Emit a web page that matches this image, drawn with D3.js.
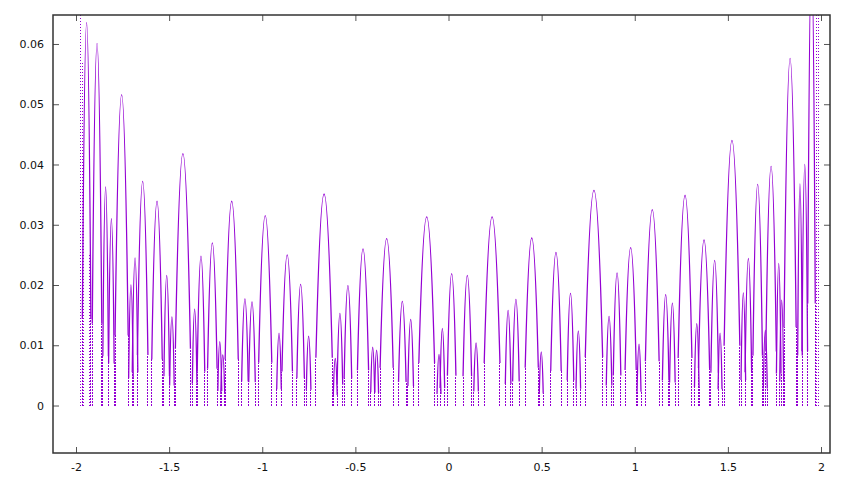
<!DOCTYPE html>
<html>
<head>
<meta charset="utf-8">
<script src="https://cdn.jsdelivr.net/npm/d3@7"></script>
<style>
  body { margin: 0; background: #fff; }
  svg { display: block; }
  .tick text { font-family: "DejaVu Sans", sans-serif; font-size: 11px; fill: #111; }
  .tick line { stroke: #555; }
</style>
</head>
<body>
<script>
// hump peaks (x, height, half width at base)
const peakX = [-1.943, -1.887, -1.841, -1.810, -1.755, -1.705, -1.683, -1.642, -1.565, -1.513,
  -1.485, -1.426, -1.363, -1.329, -1.268, -1.228, -1.212, -1.164, -1.093, -1.055,
  -0.984, -0.910, -0.866, -0.794, -0.751, -0.668, -0.608, -0.583, -0.540, -0.459,
  -0.407, -0.386, -0.332, -0.248, -0.203, -0.117, -0.051, -0.033, 0.017, 0.101,
  0.148, 0.234, 0.320, 0.362, 0.447, 0.498, 0.577, 0.655, 0.697, 0.781,
  0.862, 0.905, 0.978, 1.023, 1.094, 1.166, 1.202, 1.270, 1.333, 1.372,
  1.429, 1.458, 1.522, 1.583, 1.610, 1.660, 1.701, 1.732, 1.773, 1.789,
  1.834, 1.887, 1.913, 1.949];
const peakY = [0.0636, 0.0601, 0.0363, 0.0310, 0.0516, 0.0200, 0.0245, 0.0372, 0.0339, 0.0216,
  0.0147, 0.0418, 0.0160, 0.0248, 0.0270, 0.0106, 0.0084, 0.0339, 0.0177, 0.0172,
  0.0315, 0.0120, 0.0250, 0.0201, 0.0115, 0.0351, 0.0078, 0.0153, 0.0199, 0.0260,
  0.0097, 0.0092, 0.0277, 0.0173, 0.0143, 0.0313, 0.0085, 0.0128, 0.0219, 0.0216,
  0.0104, 0.0313, 0.0158, 0.0176, 0.0278, 0.0089, 0.0254, 0.0186, 0.0124, 0.0357,
  0.0148, 0.0220, 0.0262, 0.0102, 0.0325, 0.0184, 0.0170, 0.0349, 0.0136, 0.0275,
  0.0241, 0.0120, 0.0440, 0.0187, 0.0244, 0.0367, 0.0125, 0.0397, 0.0236, 0.0175,
  0.0576, 0.0368, 0.0400, 0.0750];
const halfW = [0.026, 0.029, 0.017, 0.017, 0.040, 0.014, 0.017, 0.032, 0.032, 0.017,
  0.014, 0.046, 0.014, 0.023, 0.029, 0.012, 0.012, 0.040, 0.020, 0.020,
  0.040, 0.014, 0.032, 0.023, 0.014, 0.050, 0.012, 0.017, 0.023, 0.034,
  0.012, 0.012, 0.040, 0.023, 0.017, 0.048, 0.012, 0.014, 0.026, 0.026,
  0.014, 0.048, 0.017, 0.020, 0.040, 0.012, 0.032, 0.020, 0.014, 0.053,
  0.017, 0.023, 0.034, 0.012, 0.042, 0.020, 0.017, 0.042, 0.014, 0.034,
  0.023, 0.012, 0.048, 0.014, 0.020, 0.029, 0.012, 0.032, 0.014, 0.012,
  0.037, 0.014, 0.017, 0.023];

// dotted vertical spikes (x, top)
const spikeX = [-1.975, -1.964, -1.958, -1.925, -1.921, 1.977, 1.985];
const spikeTop = [0.070, 0.0570, 0.040, 0.025, 0.019, 0.070, 0.070];

const xTicks = [-2, -1.5, -1, -0.5, 0, 0.5, 1, 1.5, 2];
const yTicks = [0, 0.01, 0.02, 0.03, 0.04, 0.05, 0.06];

const width = 851, height = 480;
const margin = { top: 15, right: 21, bottom: 27, left: 53 };
const color = "#9400d3";

const x = d3.scaleLinear().domain([-2.1235, 2.0483]).range([margin.left, width - margin.right]);
const y = d3.scaleLinear().domain([-0.00788, 0.06481]).range([height - margin.bottom, margin.top]);

const svg = d3.select("body").append("svg")
  .attr("width", width)
  .attr("height", height);

svg.append("clipPath").attr("id", "plot")
  .append("rect")
  .attr("x", margin.left).attr("y", margin.top)
  .attr("width", width - margin.left - margin.right)
  .attr("height", height - margin.top - margin.bottom);

const g = svg.append("g").attr("clip-path", "url(#plot)");

// each hump is a parabola through its peak; its lower sides fall as dotted drops
const cut = 0.88;
function hump(i) {
  const p = d3.path();
  const k = 1 - cut * cut;
  p.moveTo(x(peakX[i] - cut * halfW[i]), y(k * peakY[i]));
  p.quadraticCurveTo(x(peakX[i]), y(peakY[i] * (2 - k)), x(peakX[i] + cut * halfW[i]), y(k * peakY[i]));
  return p.toString();
}

g.selectAll("path.hump")
  .data(d3.range(peakX.length))
  .join("path")
  .attr("class", "hump")
  .attr("fill", "none")
  .attr("stroke", color)
  .attr("stroke-width", 1.3)
  .attr("d", hump);

g.selectAll("line.drop")
  .data(d3.range(peakX.length).flatMap(i => [[i, -1], [i, 1]]))
  .join("line")
  .attr("class", "drop")
  .attr("x1", d => x(peakX[d[0]] + d[1] * cut * halfW[d[0]]))
  .attr("x2", d => x(peakX[d[0]] + d[1] * cut * halfW[d[0]]))
  .attr("y1", y(0))
  .attr("y2", d => y((1 - cut * cut) * peakY[d[0]]))
  .attr("stroke", color)
  .attr("stroke-dasharray", "2,1")
  .attr("shape-rendering", "crispEdges");

g.selectAll("line.spike")
  .data(spikeX)
  .join("line")
  .attr("class", "spike")
  .attr("x1", d => x(d)).attr("x2", d => x(d))
  .attr("y1", y(0))
  .attr("y2", (d, i) => y(spikeTop[i]))
  .attr("stroke", color)
  .attr("stroke-dasharray", "1,2")
  .attr("shape-rendering", "crispEdges");

// axes, ticks pointing inward and mirrored
svg.append("g")
  .attr("transform", `translate(0,${height - margin.bottom})`)
  .call(d3.axisBottom(x).tickValues(xTicks).tickSize(-6).tickPadding(10).tickFormat(String))
  .call(a => a.select(".domain").remove());

svg.append("g")
  .attr("transform", `translate(${margin.left},0)`)
  .call(d3.axisLeft(y).tickValues(yTicks).tickSize(-6).tickPadding(9).tickFormat(String))
  .call(a => a.select(".domain").remove());

svg.append("g")
  .attr("transform", `translate(0,${margin.top})`)
  .call(d3.axisTop(x).tickValues(xTicks).tickSize(-6).tickFormat(""))
  .call(a => a.select(".domain").remove());

svg.append("g")
  .attr("transform", `translate(${width - margin.right},0)`)
  .call(d3.axisRight(y).tickValues(yTicks).tickSize(-6).tickFormat(""))
  .call(a => a.select(".domain").remove());

svg.append("rect")
  .attr("x", margin.left).attr("y", margin.top)
  .attr("width", width - margin.left - margin.right)
  .attr("height", height - margin.top - margin.bottom)
  .attr("fill", "none")
  .attr("stroke", "#333")
  .attr("stroke-width", 1.5);
</script>
</body>
</html>
